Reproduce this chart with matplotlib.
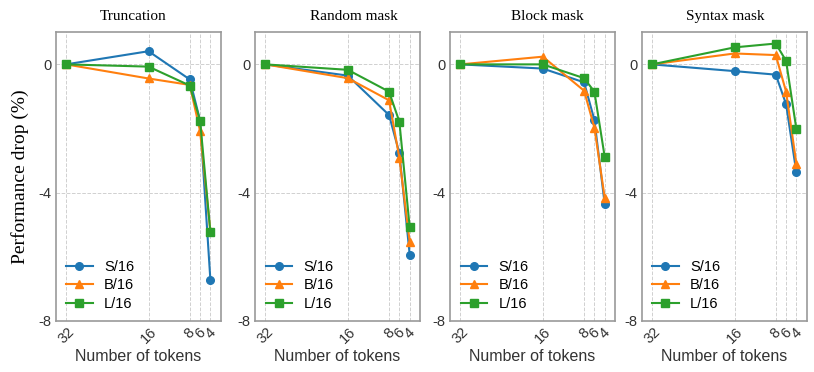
import matplotlib
matplotlib.use("Agg")
import matplotlib.pyplot as plt

# =====================================
# Data
# =====================================

tokens = [32, 16, 8, 6, 4]
models = ["S/16", "B/16", "L/16"]
titles = ["Truncation", "Random mask", "Block mask", "Syntax mask"]

trunc_s = [0, 0.41, -0.47, -1.75, -6.72]
trunc_b = [0, -0.44, -0.64, -2.08, -5.2]
trunc_l = [0, -0.07, -0.66, -1.75, -5.23]

random_s = [0, -0.35, -1.58, -2.77, -5.93]
random_b = [0, -0.43, -1.12, -2.92, -5.53]
random_l = [0, -0.17, -0.85, -1.79, -5.08]

block_s = [0, -0.13, -0.56, -1.73, -4.35]
block_b = [0, 0.24, -0.82, -1.97, -4.15]
block_l = [0, 0.0, -0.43, -0.85, -2.88]

syntax_s = [0, -0.21, -0.32, -1.24, -3.37]
syntax_b = [0, 0.34, 0.29, -0.85, -3.10]
syntax_l = [0, 0.53, 0.65, 0.11, -2.02]

panels = [
    (trunc_s, trunc_b, trunc_l),
    (random_s, random_b, random_l),
    (block_s, block_b, block_l),
    (syntax_s, syntax_b, syntax_l),
]

colors = ["#1f77b4", "#ff7f0e", "#2ca02c"]
markers = ["o", "^", "s"]

# =====================================
# Plot
# =====================================

plt.rcParams["font.family"] = ["Liberation Sans", "DejaVu Sans"]

fig = plt.figure(figsize=(8.14, 3.72), dpi=100)

lefts = [55.7, 255, 450, 641.7]
title_x = [0.468, 0.598, 0.59, 0.505]
width = 165
W, H = 814, 372
bottom = (372 - 321) / H
height = (321 - 32.3) / H

for i, (ax_left, series) in enumerate(zip(lefts, panels)):
    ax = fig.add_axes([ax_left / W, bottom, width / W, height])
    for vals, c, m, lab in zip(series, colors, markers, models):
        ax.plot(tokens, vals, color=c, marker=m, markersize=5.5,
                linewidth=1.5, label=lab)

    ax.set_xlim(34, 2)
    ax.set_ylim(-8, 1)
    ax.set_xticks(tokens)
    ax.set_xticklabels([str(t) for t in tokens], rotation=45,
                       fontsize=10.5, color="#333333")
    ax.set_yticks([0, -4, -8])
    ax.set_yticklabels(["0", "-4", "-8"], fontsize=10.5, color="#333333")
    ax.tick_params(length=0, pad=3)
    ax.grid(True, linestyle="--", color="#d0d0d0", linewidth=0.7)
    for sp in ax.spines.values():
        sp.set_color("#999999")
        sp.set_linewidth(1.2)

    ax.set_title(titles[i], fontfamily="Liberation Serif", fontsize=11,
                 pad=9, x=title_x[i])
    ax.set_xlabel("Number of tokens", fontsize=11.5, color="#333333",
                  labelpad=2)
    ax.legend(loc="lower left", frameon=False, fontsize=10.5,
              bbox_to_anchor=(0.02, 0.01), borderaxespad=0.1,
              handlelength=1.8, labelspacing=0.3)

    if i == 0:
        ax.set_ylabel("Performance drop (%)", fontfamily="Liberation Serif",
                      fontsize=14, labelpad=7)

plt.savefig("out.png", dpi=100)
